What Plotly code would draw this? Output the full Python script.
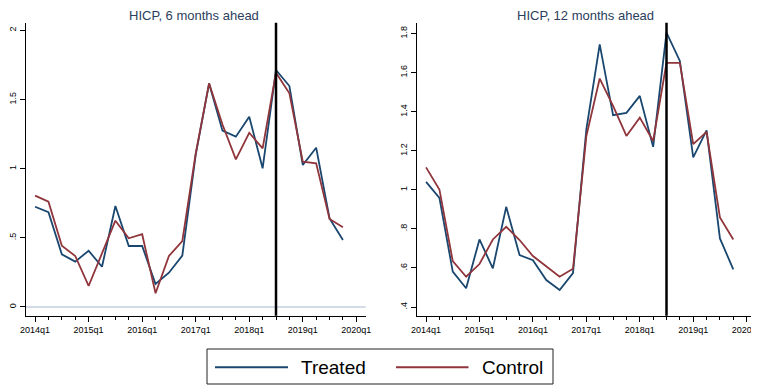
import plotly.graph_objects as go

# browser body has an 8px margin, so the figure is 8px smaller and all pixel positions shifted
OFF = 8
W, H = 759 - OFF, 385 - OFF

quarters = list(range(24))  # 2014q1 .. 2019q4
tick_vals = [0, 4, 8, 12, 16, 20, 24]
tick_text = ["2014q1", "2015q1", "2016q1", "2017q1", "2018q1", "2019q1", "2020q1"]
treat_start = 18  # 2018q3

treated_6m = [0.725, 0.685, 0.381, 0.328, 0.407, 0.291, 0.730, 0.441, 0.441, 0.166, 0.248, 0.372,
              1.10, 1.617, 1.275, 1.232, 1.376, 1.003, 1.714, 1.598, 1.027, 1.152, 0.641, 0.484]
control_6m = [0.805, 0.762, 0.443, 0.369, 0.152, 0.394, 0.624, 0.497, 0.526, 0.099, 0.369, 0.476,
              1.11, 1.617, 1.32, 1.068, 1.260, 1.147, 1.694, 1.545, 1.051, 1.039, 0.636, 0.576]

treated_12m = [1.041, 0.959, 0.581, 0.496, 0.746, 0.598, 0.913, 0.666, 0.640, 0.538, 0.487, 0.574,
               1.31, 1.745, 1.382, 1.394, 1.481, 1.220, 1.805, 1.660, 1.166, 1.305, 0.751, 0.593]
control_12m = [1.115, 1.002, 0.635, 0.555, 0.620, 0.746, 0.811, 0.743, 0.661, 0.606, 0.555, 0.596,
               1.275, 1.570, 1.43, 1.276, 1.370, 1.250, 1.650, 1.650, 1.234, 1.297, 0.859, 0.746]

y6_vals = [0, 0.5, 1, 1.5, 2]
y6_text = ["0", ".5", "1", "1.5", "2"]
y12_vals = [0.4, 0.6, 0.8, 1.0, 1.2, 1.4, 1.6, 1.8]
y12_text = [".4", ".6", ".8", "1", "1.2", "1.4", "1.6", "1.8"]

titles = ["HICP, 6 months ahead", "HICP, 12 months ahead"]
series_names = ["Treated", "Control"]

C_T = "#1a476f"
C_C = "#90353b"
FONT = "Arial, Liberation Sans, sans-serif"

def px(x):
    return (x - OFF) / W

def py(y):
    return 1 - (y - OFF) / H

fig = go.Figure()

for name, ys, c in [(series_names[0], treated_6m, C_T), (series_names[1], control_6m, C_C)]:
    fig.add_trace(go.Scatter(x=quarters, y=ys, mode="lines", name=name, line=dict(color=c, width=1.8),
                             xaxis="x", yaxis="y", showlegend=False))
for name, ys, c in [(series_names[0], treated_12m, C_T), (series_names[1], control_12m, C_C)]:
    fig.add_trace(go.Scatter(x=quarters, y=ys, mode="lines", name=name, line=dict(color=c, width=1.8),
                             xaxis="x2", yaxis="y2", showlegend=False))

ydom = [py(315.7), py(22.7)]
xdom1 = [px(25.7), px(365.7)]
xdom2 = [px(416.7), px(756.0)]

xcommon = dict(range=[-0.7, 24.7], tickvals=tick_vals, ticktext=tick_text, showgrid=False,
               zeroline=False, showline=True, linecolor="black", linewidth=1,
               ticks="outside", ticklen=5, tickcolor="black", tickwidth=1,
               tickfont=dict(family=FONT, size=9, color="black"), ticklabeloverflow="allow",
               minor=dict(dtick=1, tick0=0, ticks="outside", ticklen=3, tickcolor="black", showgrid=False),
               automargin=False, fixedrange=True)
ycommon = dict(showgrid=False, zeroline=False, showline=True, linecolor="black", linewidth=1,
               ticks="outside", ticklen=5, tickcolor="black", tickwidth=1, tickangle=-90,
               tickfont=dict(family=FONT, size=9, color="black"), automargin=False)

fig.update_layout(
    width=W, height=H,
    margin=dict(l=0, r=0, t=0, b=0),
    paper_bgcolor="white", plot_bgcolor="white",
    xaxis=dict(domain=xdom1, anchor="y", **xcommon),
    yaxis=dict(domain=ydom, anchor="x", range=[-0.063, 2.056], tickvals=y6_vals, ticktext=y6_text, **ycommon),
    xaxis2=dict(domain=xdom2, anchor="y2", **xcommon),
    yaxis2=dict(domain=ydom, anchor="x2", range=[0.3555, 1.856], tickvals=y12_vals, ticktext=y12_text, **ycommon),
    showlegend=False,
)

shapes = []
# zero reference line (left panel)
shapes.append(dict(type="line", xref="x domain", yref="y", x0=0, x1=1, y0=0, y1=0,
                   line=dict(color="#d3dce5", width=2), layer="below"))
# treatment lines
for xr, yr in [("x", "y domain"), ("x2", "y2 domain")]:
    shapes.append(dict(type="line", xref=xr, yref=yr, x0=treat_start, x1=treat_start, y0=0, y1=1,
                       line=dict(color="black", width=2.5)))
# legend box
shapes.append(dict(type="rect", xref="paper", yref="paper", x0=px(207), x1=px(553), y0=py(384), y1=py(349),
                   line=dict(color="#222222", width=1), fillcolor="white"))
shapes.append(dict(type="line", xref="paper", yref="paper", x0=px(215), x1=px(288), y0=py(367.3), y1=py(367.3),
                   line=dict(color=C_T, width=2)))
shapes.append(dict(type="line", xref="paper", yref="paper", x0=px(396), x1=px(468.5), y0=py(367.3), y1=py(367.3),
                   line=dict(color=C_C, width=2)))
fig.update_layout(shapes=shapes)

annotations = [
    dict(text=titles[0], xref="paper", yref="paper", x=px(193.5), y=py(15.5), xanchor="center", yanchor="middle",
         showarrow=False, borderpad=0, font=dict(family=FONT, size=13, color="#2c3e5c")),
    dict(text=titles[1], xref="paper", yref="paper", x=px(585), y=py(15.5), xanchor="center", yanchor="middle",
         showarrow=False, borderpad=0, font=dict(family=FONT, size=13, color="#2c3e5c")),
    dict(text=series_names[0], xref="paper", yref="paper", x=px(299), y=py(367), xanchor="left", yanchor="middle",
         showarrow=False, font=dict(family=FONT, size=19, color="black")),
    dict(text=series_names[1], xref="paper", yref="paper", x=px(480), y=py(367), xanchor="left", yanchor="middle",
         showarrow=False, font=dict(family=FONT, size=19, color="black")),
]
fig.update_layout(annotations=annotations)

fig.write_html("out.html", config={"displayModeBar": False})
